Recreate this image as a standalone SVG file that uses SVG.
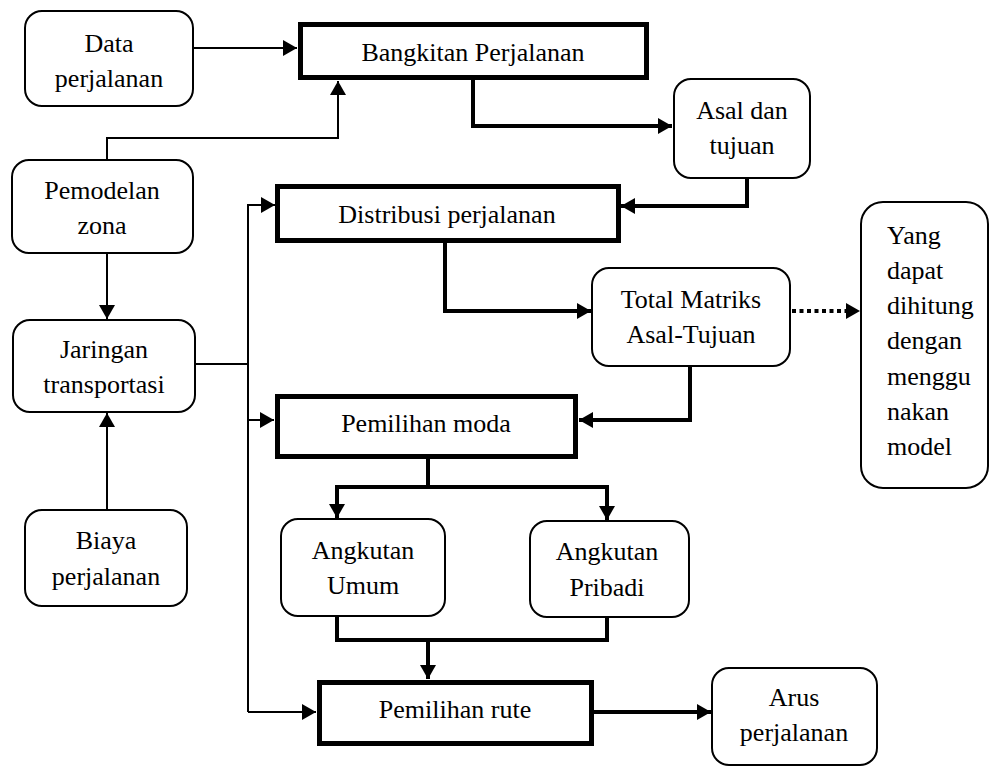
<svg xmlns="http://www.w3.org/2000/svg" width="990" height="767" viewBox="0 0 990 767">
<style>
.r{fill:#fff;stroke:#000;stroke-width:2}
.b{fill:#fff;stroke:#000;stroke-width:5}
.t{font-family:"Liberation Serif","Times New Roman",serif;font-size:26px;fill:#000;text-anchor:middle}
.l{text-anchor:start}
.c{fill:none;stroke:#000;stroke-width:2}
.k{fill:none;stroke:#000;stroke-width:4}
.d{fill:none;stroke:#000;stroke-width:4;stroke-dasharray:4 3.5}
</style>
<defs>
<marker id="a" markerUnits="userSpaceOnUse" markerWidth="14" markerHeight="16" refX="14" refY="8" orient="auto"><path d="M0,0 L14,8 L0,16 z" fill="#000"/></marker>
</defs>
<rect width="990" height="767" fill="#fff"/>
<g id="connectors">
<path class="c" d="M193,48 H297" marker-end="url(#a)"/>
<path class="c" d="M107,160 V138 H338 V81" marker-end="url(#a)"/>
<path class="k" d="M473,80 V126 H672" marker-end="url(#a)"/>
<path class="k" d="M747,178 V206 H621" marker-end="url(#a)"/>
<path class="c" d="M107,253 V319" marker-end="url(#a)"/>
<path class="c" d="M107,510 V413" marker-end="url(#a)"/>
<path class="c" d="M195,364 H248"/>
<path class="c" d="M248,712 V205 H275" marker-end="url(#a)"/>
<path class="c" d="M248,420 H274" marker-end="url(#a)"/>
<path class="c" d="M248,712 H316" marker-end="url(#a)"/>
<path class="k" d="M445,243 V311 H591" marker-end="url(#a)"/>
<path class="d" d="M792,311 H846"/>
<path fill="#000" d="M846,303 L860,311 L846,319 z"/>
<path class="k" d="M690,366 V420 H579" marker-end="url(#a)"/>
<path class="k" d="M428,459 V487"/>
<path class="k" d="M337,487 H607"/>
<path class="k" d="M337,485 V518" marker-end="url(#a)"/>
<path class="k" d="M607,485 V520" marker-end="url(#a)"/>
<path class="k" d="M337,616 V640 H607 V617"/>
<path class="k" d="M428,640 V679" marker-end="url(#a)"/>
<path class="k" d="M594,712 H711" marker-end="url(#a)"/>
</g>
<g id="data-perjalanan"><rect class="r" x="25" y="11" width="168" height="95" rx="17"/><text class="t" x="109" y="52">Data</text><text class="t" x="109" y="87">perjalanan</text></g>
<g id="bangkitan"><rect class="b" x="300.5" y="24.5" width="346" height="53"/><text class="t" x="473" y="61">Bangkitan Perjalanan</text></g>
<g id="asal-tujuan"><rect class="r" x="674" y="79" width="136" height="99" rx="17"/><text class="t" x="742" y="119">Asal dan</text><text class="t" x="742" y="154">tujuan</text></g>
<g id="pemodelan-zona"><rect class="r" x="12" y="160" width="181" height="93" rx="17"/><text class="t" x="102" y="199">Pemodelan</text><text class="t" x="102" y="234">zona</text></g>
<g id="distribusi"><rect class="b" x="277.5" y="186.5" width="341" height="54"/><text class="t" x="447" y="223">Distribusi perjalanan</text></g>
<g id="total-matriks"><rect class="r" x="592" y="268" width="198" height="98" rx="17"/><text class="t" x="691" y="308">Total Matriks</text><text class="t" x="691" y="343">Asal-Tujuan</text></g>
<g id="yang-dapat"><rect class="r" x="861" y="202" width="127" height="286" rx="22"/>
<text class="t l" x="887" y="244">Yang</text><text class="t l" x="887" y="279">dapat</text><text class="t l" x="887" y="314">dihitung</text><text class="t l" x="887" y="349">dengan</text><text class="t l" x="887" y="385">menggu</text><text class="t l" x="887" y="420">nakan</text><text class="t l" x="887" y="455">model</text></g>
<g id="jaringan"><rect class="r" x="13" y="320" width="182" height="92" rx="17"/><text class="t" x="104" y="358">Jaringan</text><text class="t" x="104" y="393">transportasi</text></g>
<g id="pemilihan-moda"><rect class="b" x="277.5" y="396.5" width="298" height="60"/><text class="t" x="426" y="432">Pemilihan moda</text></g>
<g id="biaya"><rect class="r" x="25" y="510" width="162" height="96" rx="17"/><text class="t" x="106" y="549">Biaya</text><text class="t" x="106" y="585">perjalanan</text></g>
<g id="angkutan-umum"><rect class="r" x="281" y="519" width="164" height="97" rx="17"/><text class="t" x="363" y="559">Angkutan</text><text class="t" x="363" y="594">Umum</text></g>
<g id="angkutan-pribadi"><rect class="r" x="530" y="521" width="159" height="96" rx="17"/><text class="t" x="607" y="560">Angkutan</text><text class="t" x="607" y="596">Pribadi</text></g>
<g id="pemilihan-rute"><rect class="b" x="319.5" y="682.5" width="272" height="61"/><text class="t" x="455" y="718">Pemilihan rute</text></g>
<g id="arus"><rect class="r" x="712" y="668" width="165" height="97" rx="17"/><text class="t" x="794" y="706">Arus</text><text class="t" x="794" y="741">perjalanan</text></g>
</svg>
